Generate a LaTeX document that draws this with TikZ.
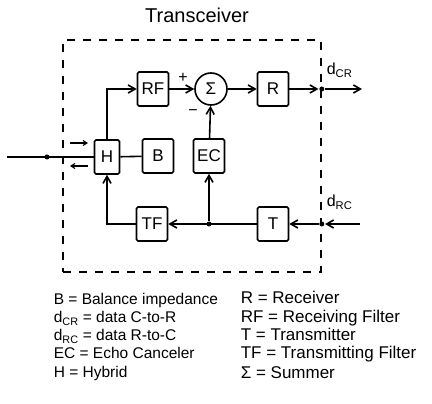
\documentclass[tikz,border=0pt]{standalone}
\usepackage{fontspec}
\setmainfont{Liberation Sans}
\usetikzlibrary{arrows.meta,positioning}
\newcommand{\fsz}[1]{\fontsize{#1}{#1}\selectfont}

\begin{document}
\begin{tikzpicture}[x=1pt,y=-1pt,line width=1.6pt,>={Straight Barb[length=7pt,width=8pt]},
  blk/.style={draw,rounded corners=1.5pt,minimum width=31pt,minimum height=34pt,inner sep=1pt,font=\fsz{17}},
  sumnode/.style={draw,circle,minimum size=32pt,inner sep=0pt,font=\fsz{17}},
  jdot/.style={circle,fill,inner sep=0pt,minimum size=5pt},
  lbl/.style={inner sep=0pt,font=\fsz{16}},
  tick/.style={->,line width=1.1pt,>={Straight Barb[length=4pt,width=5pt]}},
  leg/.style={anchor=base west,inner sep=0pt,font=\fsz{15.5}},
  legr/.style={leg,font=\fsz{17}}]
\useasboundingbox (0,0) rectangle (432,404);
\node[font=\fsz{20}] (title) at (197,15) {Transceiver};
\node[draw,dash pattern=on 8pt off 8pt,minimum width=258pt,minimum height=232pt,inner sep=0pt] (tbox) at (192,156) {};
% blocks
\node[blk] (rf) at (153,89) {RF};
\node[sumnode] (sum) at (211,89) {Σ};
\node[blk] (rcv) at (273,89) {R};
\node[blk,minimum width=25pt] (hyb) at (107,157) {H};
\node[blk] (bal) at (158,156) {B};
\node[blk] (ec) at (209,156) {EC};
\node[blk] (tf) at (152,224) {TF};
\node[blk] (tx) at (273,224) {T};
% line side
\coordinate (linein) at (7,157);
\node[jdot] (jin) at (47,157) {};
\draw (linein) -- (hyb.west);
\coordinate (ta) at (70,143); \coordinate (tb) at (88,143);
\coordinate (ua) at (88,166); \coordinate (ub) at (70,166);
\draw[tick] (ta) -- (tb);
\draw[tick] (ua) -- (ub);
% receive path
\draw[->] (hyb.north) |- (rf.west);
\draw[->] (rf) -- (sum);
\node[lbl] (plus) at (183,78) {+};
\draw[->] (sum) -- (rcv);
\node[jdot] (crdot) at (tbox.east |- rcv) {};
\coordinate (crend) at (362,89);
\draw[->] (rcv) -- (crdot);
\draw[->] (crdot) -- (crend);
\node[lbl,anchor=west] (dcr) at (326,70) {d\textsubscript{CR}};
% echo path
\draw[->] (ec) -- (sum);
\node[lbl] (minus) at (193,113) {−};
\draw (hyb) -- (bal);
% transmit path
\node[jdot] (ecdot) at (ec |- tx) {};
\draw[->] (tx) -- (tf);
\draw[->] (ecdot) -- (ec);
\draw[->] (tf.west) -| (hyb.south);
\node[jdot] (rcdot) at (tbox.east |- tx) {};
\coordinate (rcin) at (360,224);
\draw[->] (rcin) -- (rcdot);
\draw[->] (rcdot) -- (tx);
\node[lbl,anchor=west] (drc) at (326,202) {d\textsubscript{RC}};
% legend
\node[leg] (lb) at (53,305) {B = Balance impedance};
\node[leg] (lcr) at (53,323) {d\textsubscript{CR} = data C-to-R};
\node[leg] (lrc) at (53,341) {d\textsubscript{RC} = data R-to-C};
\node[leg] (lec) at (53,359) {EC = Echo Canceler};
\node[leg] (lh) at (53,377) {H = Hybrid};
\node[legr] (lr) at (240,304) {R = Receiver};
\node[legr] (lrf) at (240,322) {RF = Receiving Filter};
\node[legr] (lt) at (240,341) {T = Transmitter};
\node[legr] (ltf) at (240,359) {TF = Transmitting Filter};
\node[legr] (ls) at (240,378) {Σ = Summer};
\end{tikzpicture}
\end{document}
